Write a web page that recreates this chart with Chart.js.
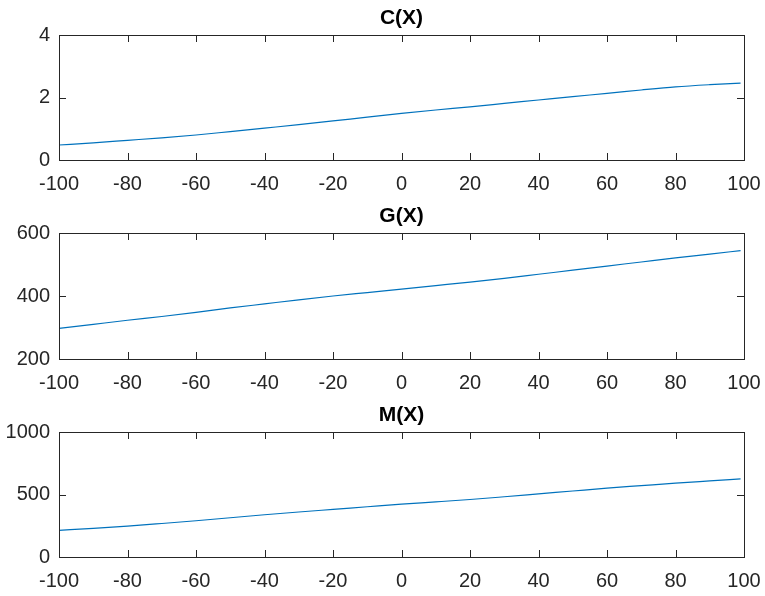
<!DOCTYPE html>
<html>
<head>
<meta charset="utf-8">
<script src="https://cdn.jsdelivr.net/npm/chart.js@4"></script>
<style>
  body { margin: 0; background: #fff; }
  #wrap { position: relative; width: 765px; height: 596px; background: #fff; }
  canvas { position: absolute; left: 0; }
</style>
</head>
<body>
<div id="wrap">
  <canvas id="chartC" width="765" height="196" style="top:0px"></canvas>
  <canvas id="chartG" width="765" height="197" style="top:198px"></canvas>
  <canvas id="chartM" width="765" height="196" style="top:397px"></canvas>
</div>
<script>
// x positions (line ends just short of 100)
const xValues = [-100, -90, -80, -70, -60, -50, -40, -30, -20, -10, 0, 10, 20, 30, 40, 50, 60, 70, 80, 90, 99];

const cValues = [0.48, 0.55, 0.63, 0.71, 0.80, 0.91, 1.02, 1.13, 1.25, 1.37, 1.49, 1.60, 1.70, 1.81, 1.92, 2.03, 2.13, 2.24, 2.34, 2.41, 2.46];
const gValues = [297, 310, 323, 335, 348, 362, 375, 388, 400, 411, 422, 433, 444, 456, 469, 482, 495, 508, 521, 533, 544];
const mValues = [213, 229, 247, 268, 290, 314, 338, 360, 381, 402, 423, 441, 460, 482, 505, 528, 551, 571, 591, 609, 625];

const xTicks = [-100, -80, -60, -40, -20, 0, 20, 40, 60, 80, 100];
const cTicks = [0, 2, 4];
const gTicks = [200, 400, 600];
const mTicks = [0, 500, 1000];

const axisColor = '#262626';
const lineColor = '#0072BD';
const fontFamily = '"Liberation Sans", Arial, Helvetica, sans-serif';

// MATLAB style box with inward ticks on all four sides
const boxTicks = {
  id: 'boxTicks',
  afterDraw(chart) {
    const ctx = chart.ctx;
    const a = chart.chartArea;
    const xs = chart.scales.x, ys = chart.scales.y;
    const len = 7;
    ctx.save();
    ctx.strokeStyle = axisColor;
    ctx.lineWidth = 1;
    ctx.beginPath();
    xs.ticks.forEach(t => {
      const px = Math.round(xs.getPixelForValue(t.value)) + 0.5;
      ctx.moveTo(px, a.bottom); ctx.lineTo(px, a.bottom - len);
      ctx.moveTo(px, a.top); ctx.lineTo(px, a.top + len);
    });
    ys.ticks.forEach(t => {
      const py = Math.round(ys.getPixelForValue(t.value)) + 0.5;
      ctx.moveTo(a.left, py); ctx.lineTo(a.left + len, py);
      ctx.moveTo(a.right, py); ctx.lineTo(a.right - len, py);
    });
    ctx.stroke();
    ctx.strokeRect(Math.round(a.left) + 0.5, Math.round(a.top) + 0.5,
                   Math.round(a.right) - Math.round(a.left), Math.round(a.bottom) - Math.round(a.top));
    ctx.restore();
  }
};

function drawPanel(canvasId, title, values, yTicks) {
  const ctx = document.getElementById(canvasId).getContext('2d');
  const points = xValues.map((x, i) => ({ x: x, y: values[i] }));

  new Chart(ctx, {
    type: 'line',
    data: {
      datasets: [{
        data: points,
        borderColor: lineColor,
        borderWidth: 1.2,
        pointRadius: 0,
        cubicInterpolationMode: 'monotone',
        fill: false
      }]
    },
    options: {
      responsive: false,
      animation: false,
      devicePixelRatio: 1,
      layout: { padding: { left: 0, right: 21, top: 0, bottom: 0 } },
      scales: {
        x: {
          type: 'linear',
          min: xTicks[0],
          max: xTicks[xTicks.length - 1],
          afterBuildTicks: scale => { scale.ticks = xTicks.map(v => ({ value: v })); },
          afterFit: scale => {
            scale.height = 36;
            scale.paddingLeft = 0;
            scale.paddingRight = 0;
          },
          grid: { display: false, drawTicks: false },
          border: { display: false },
          ticks: {
            color: axisColor,
            font: { family: fontFamily, size: 20 },
            padding: 12,
            maxRotation: 0,
            autoSkip: false,
            callback: v => String(v)
          }
        },
        y: {
          min: yTicks[0],
          max: yTicks[yTicks.length - 1],
          afterBuildTicks: scale => { scale.ticks = yTicks.map(v => ({ value: v })); },
          afterFit: scale => { scale.width = 59; },
          grid: { display: false, drawTicks: false },
          border: { display: false },
          ticks: {
            color: axisColor,
            font: { family: fontFamily, size: 20 },
            padding: 9,
            autoSkip: false,
            callback: v => String(v)
          }
        }
      },
      plugins: {
        legend: { display: false },
        tooltip: { enabled: false },
        title: {
          display: true,
          text: title,
          fullSize: false,
          color: '#000',
          font: { family: fontFamily, size: 21, weight: 'bold' },
          padding: { top: 6, bottom: 3.8 }
        }
      }
    },
    plugins: [boxTicks]
  });
}

drawPanel('chartC', 'C(X)', cValues, cTicks);
drawPanel('chartG', 'G(X)', gValues, gTicks);
drawPanel('chartM', 'M(X)', mValues, mTicks);
</script>
</body>
</html>
